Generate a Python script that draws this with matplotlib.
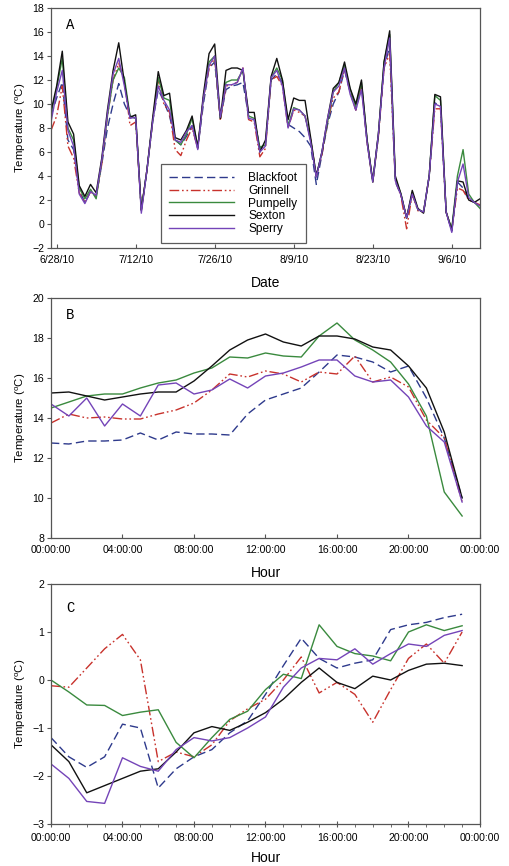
import matplotlib
matplotlib.use("Agg")
import matplotlib.pyplot as plt
import numpy as np
import pandas as pd

plt.rcParams['font.family'] = ['Liberation Sans', 'DejaVu Sans']

# ---------------- data ----------------
sites = ["Blackfoot", "Grinnell", "Pumpelly", "Sexton", "Sperry"]
colors = {"Blackfoot": "#2e3a8c", "Grinnell": "#c8322c", "Pumpelly": "#3a8a3e",
          "Sexton": "#111111", "Sperry": "#7444b8"}

start_date = "2010-06-27"
daily = {
    "Blackfoot": [9.0, 10.5, 11.8, 7.0, 6.2, 2.8, 1.8, 2.7, 2.3, 5.0, 8.0, 10.0, 11.7, 10.0, 9.0, 8.8, 1.2,
                  4.5, 8.5, 11.2, 10.2, 9.0, 7.0, 6.6, 7.3, 8.2, 6.3, 10.0, 13.0, 13.5, 8.8, 11.2, 11.5, 11.6,
                  11.8, 9.0, 8.7, 6.3, 6.6, 12.0, 12.5, 11.8, 8.3, 8.0, 7.7, 7.2, 6.5, 3.3, 5.8, 8.3, 10.0,
                  11.0, 12.8, 11.0, 9.5, 11.5, 6.8, 3.5, 7.3, 13.0, 14.8, 3.5, 2.4, 0.5, 2.5, 1.2, 1.0, 4.0,
                  10.1, 9.8, 1.0, -0.6, 3.5, 3.0, 2.0, 1.8, 1.5],
    "Grinnell": [7.8, 9.0, 11.5, 6.5, 5.5, 2.6, 1.8, 2.7, 2.3, 5.0, 9.0, 12.0, 13.4, 12.0, 8.2, 8.5, 1.2,
                 4.5, 8.5, 12.0, 10.0, 9.3, 6.2, 5.7, 7.0, 8.0, 6.3, 10.5, 13.0, 13.8, 8.6, 11.5, 11.6, 11.8,
                 13.0, 8.7, 8.5, 5.6, 6.3, 12.0, 12.3, 11.5, 8.0, 9.5, 9.3, 9.0, 7.0, 4.0, 5.8, 8.5, 10.5,
                 11.0, 13.0, 11.0, 9.5, 11.5, 6.8, 3.5, 7.3, 13.0, 14.2, 3.7, 2.3, -0.4, 2.5, 1.1, 1.0, 4.0,
                 9.6, 9.6, 1.0, -0.5, 3.0, 2.8, 2.0, 1.8, 1.6],
    "Pumpelly": [9.2, 11.3, 13.8, 8.0, 7.0, 3.0, 2.1, 2.9, 2.1, 5.3, 9.0, 12.0, 13.0, 12.2, 9.0, 8.8, 1.2,
                 4.5, 8.5, 12.2, 10.5, 10.3, 7.0, 6.6, 7.5, 8.8, 6.4, 10.5, 13.5, 14.0, 8.8, 11.8, 12.0, 12.0,
                 12.8, 9.0, 8.8, 6.4, 6.6, 12.2, 13.0, 12.0, 8.2, 9.7, 9.5, 9.0, 7.0, 4.0, 6.0, 8.5, 11.0,
                 11.8, 13.2, 11.2, 9.8, 11.8, 7.0, 3.5, 7.5, 13.5, 15.8, 3.8, 2.5, 0.5, 2.6, 1.2, 1.0, 4.0,
                 10.7, 10.3, 1.0, -0.4, 4.0, 6.2, 2.5, 1.8, 1.3],
    "Sexton": [9.4, 11.5, 14.4, 8.5, 7.5, 3.2, 2.3, 3.3, 2.6, 5.5, 9.5, 12.8, 15.1, 11.8, 8.9, 9.1, 1.1,
               4.5, 8.8, 12.7, 10.7, 10.9, 7.2, 7.0, 7.8, 9.0, 6.4, 10.8, 14.2, 15.0, 8.8, 12.8, 13.0, 13.0,
               12.8, 9.3, 9.3, 6.0, 7.0, 12.3, 13.8, 12.0, 8.7, 10.5, 10.3, 10.3, 7.2, 4.0, 6.0, 8.8, 11.3,
               11.8, 13.5, 11.3, 10.0, 12.0, 7.0, 3.6, 7.5, 13.5, 16.1, 4.0, 2.5, 0.5, 2.8, 1.3, 0.9, 4.0,
               10.8, 10.6, 1.0, -0.5, 3.6, 3.5, 2.0, 1.8, 2.1],
    "Sperry": [8.5, 11.0, 12.8, 7.8, 6.5, 2.5, 1.7, 2.7, 2.4, 5.3, 9.2, 12.5, 13.8, 11.5, 8.8, 8.9, 0.9,
               4.5, 8.5, 11.5, 10.3, 9.5, 7.0, 6.8, 7.7, 8.2, 6.2, 10.5, 13.2, 14.0, 8.9, 11.6, 11.6, 11.8,
               13.0, 8.8, 8.7, 6.0, 6.5, 12.2, 12.8, 11.5, 8.0, 9.6, 9.5, 9.0, 6.8, 3.9, 6.0, 8.8, 11.0,
               11.5, 13.0, 10.8, 9.5, 11.2, 6.8, 3.5, 7.5, 13.0, 15.5, 3.6, 2.4, 0.5, 2.5, 1.2, 1.0, 4.0,
               10.0, 9.8, 1.0, -0.7, 3.5, 5.0, 2.2, 1.8, 1.5],
}
date_ticks = ["2010-06-28", "2010-07-12", "2010-07-26", "2010-08-09", "2010-08-23", "2010-09-06"]
date_tick_labels = ["6/28/10", "7/12/10", "7/26/10", "8/9/10", "8/23/10", "9/6/10"]

hours = list(range(24))
hourly_B = {
    "Blackfoot": [12.75, 12.7, 12.85, 12.85, 12.9, 13.25, 12.9, 13.3, 13.2, 13.2, 13.15, 14.2, 14.9, 15.2,
                  15.5, 16.3, 17.15, 17.05, 16.8, 16.3, 16.6, 15.0, 13.0, 10.0],
    "Grinnell": [13.75, 14.2, 14.0, 14.05, 13.95, 13.95, 14.2, 14.4, 14.75, 15.4, 16.2, 16.05, 16.35, 16.2,
                 15.8, 16.3, 16.2, 17.1, 15.8, 16.05, 15.55, 13.9, 13.0, 9.8],
    "Pumpelly": [14.5, 14.8, 15.1, 15.2, 15.2, 15.5, 15.75, 15.9, 16.25, 16.5, 17.05, 17.0, 17.25, 17.1,
                 17.05, 18.1, 18.75, 17.9, 17.4, 16.8, 15.7, 14.1, 10.3, 9.1],
    "Sexton": [15.25, 15.3, 15.1, 14.9, 15.05, 15.2, 15.3, 15.3, 15.85, 16.6, 17.4, 17.9, 18.2, 17.8,
               17.6, 18.1, 18.1, 17.95, 17.55, 17.4, 16.6, 15.5, 13.3, 10.0],
    "Sperry": [14.7, 14.1, 15.0, 13.6, 14.7, 14.1, 15.65, 15.75, 15.2, 15.4, 15.95, 15.5, 16.1, 16.25,
               16.55, 16.9, 16.9, 16.1, 15.8, 15.9, 15.05, 13.6, 12.8, 9.8],
}
hourly_C = {
    "Blackfoot": [-1.2, -1.6, -1.82, -1.6, -0.92, -1.0, -2.25, -1.85, -1.6, -1.45, -1.1, -0.85, -0.3, 0.3,
                  0.87, 0.45, 0.25, 0.35, 0.42, 1.05, 1.15, 1.2, 1.3, 1.37],
    "Grinnell": [-0.12, -0.15, 0.25, 0.65, 0.95, 0.42, -1.7, -1.5, -1.6, -1.35, -0.85, -0.6, -0.4, 0.0,
                 0.48, -0.27, -0.05, -0.3, -0.88, -0.2, 0.45, 0.75, 0.35, 1.0],
    "Pumpelly": [0.0, -0.25, -0.52, -0.53, -0.74, -0.67, -0.62, -1.3, -1.62, -1.2, -0.82, -0.65, -0.2,
                 0.12, 0.03, 1.15, 0.7, 0.55, 0.5, 0.4, 1.0, 1.15, 1.03, 1.13],
    "Sexton": [-1.35, -1.7, -2.35, -2.2, -2.05, -1.9, -1.85, -1.5, -1.1, -0.97, -1.05, -0.88, -0.68, -0.4,
               -0.05, 0.25, -0.05, -0.18, 0.08, 0.0, 0.2, 0.33, 0.35, 0.3],
    "Sperry": [-1.75, -2.05, -2.53, -2.57, -1.62, -1.8, -1.9, -1.45, -1.2, -1.27, -1.2, -1.0, -0.77, -0.15,
               0.25, 0.45, 0.42, 0.65, 0.33, 0.55, 0.75, 0.7, 0.93, 1.03],
}
hour_ticks = [0, 4, 8, 12, 16, 20, 24]
hour_tick_labels = ["00:00:00", "04:00:00", "08:00:00", "12:00:00", "16:00:00", "20:00:00", "00:00:00"]

styles = {
    "Blackfoot": dict(linestyle=(0, (6, 3))),
    "Grinnell": dict(linestyle=(0, (7, 2, 1.2, 2, 1.2, 2))),
    "Pumpelly": dict(linestyle="-"),
    "Sexton": dict(linestyle="-"),
    "Sperry": dict(linestyle="-"),
}

# ---------------- figure ----------------
W, H = 510, 866
fig = plt.figure(figsize=(W / 100, H / 100), dpi=100)

def rect(left, top, right, bottom):
    return [left / W, 1 - bottom / H, (right - left) / W, (bottom - top) / H]

axA = fig.add_axes(rect(51, 8, 480, 248))
axB = fig.add_axes(rect(51, 298, 480, 538))
axC = fig.add_axes(rect(51, 584, 480, 824))

spine_col = "#555555"
tick_fs = 7.6
label_fs = 8.2
ylabel = "Temperature ($\\mathregular{^o}$C)"

def style_axes(ax):
    for s in ax.spines.values():
        s.set_color(spine_col)
        s.set_linewidth(0.9)
    ax.tick_params(labelsize=tick_fs, color=spine_col, length=3, width=0.8, pad=2)
    ax.tick_params(axis="x", pad=5)
    ax.set_ylabel(ylabel, fontsize=label_fs, labelpad=3)

# Panel A
n = len(daily["Sexton"])
dates = pd.date_range(start_date, periods=n, freq="D")
for s in sites:
    axA.plot(dates, daily[s], color=colors[s], lw=1.0, label=s, **styles[s])
axA.set_xlim(dates[0], dates[-1])
axA.set_ylim(-2, 18)
axA.set_yticks(np.arange(-2, 19, 2))
axA.set_xticks(pd.to_datetime(date_ticks))
axA.set_xticklabels(date_tick_labels)
style_axes(axA)
axA.tick_params(axis="x", direction="in")
axA.set_xlabel("Date", fontsize=10, labelpad=8)
axA.text(0.035, 0.93, "A", transform=axA.transAxes, fontsize=10,
         family="Liberation Mono", va="center")
leg = axA.legend(loc="lower left", bbox_to_anchor=(0.256, 0.02), fontsize=8.6,
                 handlelength=5.4, handletextpad=1.2, labelspacing=0.05,
                 frameon=True, fancybox=False, borderpad=0.7, borderaxespad=0.0)
leg.get_frame().set_edgecolor("#333333")
leg.get_frame().set_linewidth(0.9)

# Panel B
for s in sites:
    axB.plot(hours, hourly_B[s], color=colors[s], lw=1.0, **styles[s])
axB.set_xlim(0, 24)
axB.set_ylim(8, 20)
axB.set_yticks(np.arange(8, 21, 2))
axB.set_xticks(hour_ticks)
axB.set_xticklabels(hour_tick_labels)
style_axes(axB)
axB.tick_params(axis="x", direction="in")
axB.set_xlabel("Hour", fontsize=10, labelpad=8)
axB.text(0.035, 0.93, "B", transform=axB.transAxes, fontsize=10,
         family="Liberation Mono", va="center")

# Panel C
for s in sites:
    axC.plot(hours, hourly_C[s], color=colors[s], lw=1.0, **styles[s])
axC.set_xlim(0, 24)
axC.set_ylim(-3, 2)
axC.set_yticks(np.arange(-3, 3, 1))
axC.set_xticks(hour_ticks)
axC.set_xticks(hours, minor=True)
axC.set_xticklabels(hour_tick_labels)
style_axes(axC)
axC.tick_params(axis="x", which="major", direction="inout", length=5, pad=4)
axC.tick_params(axis="x", which="minor", length=2, color=spine_col)
axC.set_xlabel("Hour", fontsize=10, labelpad=6)
axC.text(0.035, 0.9, "C", transform=axC.transAxes, fontsize=10,
         family="Liberation Mono", va="center")

fig.savefig("out.png", dpi=100)
